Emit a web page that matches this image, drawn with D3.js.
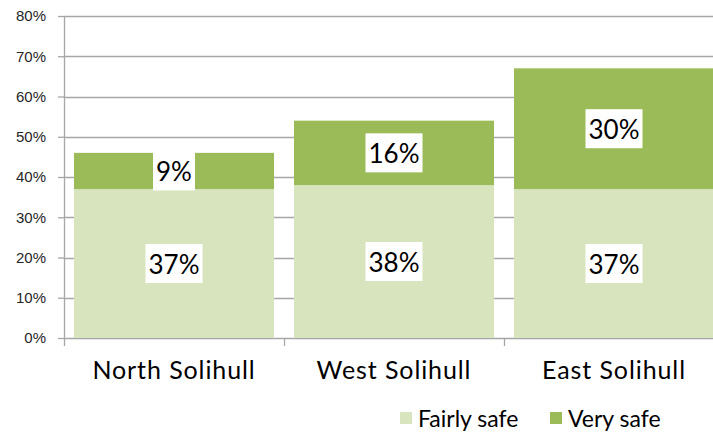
<!DOCTYPE html>
<html>
<head>
<meta charset="utf-8">
<script src="https://cdn.jsdelivr.net/npm/d3@7"></script>
<style>
  html, body { margin: 0; padding: 0; background: #fff; }
  svg { display: block; }
</style>
</head>
<body>
<svg id="chart" width="713" height="436"></svg>
<script>
// Feeling of safety by area (share of respondents)
const categories = ["North Solihull", "West Solihull", "East Solihull"];
const fairlySafe = [37, 38, 37];
const verySafe = [9, 16, 30];
const seriesNames = ["Fairly safe", "Very safe"];
const seriesColors = ["#d7e4bd", "#9bbb59"];
const yTicks = [0, 10, 20, 30, 40, 50, 60, 70, 80];

const svg = d3.select("#chart");
const W = 713, H = 436;
const plot = { left: 64, right: 724, top: 16, bottom: 338 };

const x = d3.scaleBand()
  .domain(categories)
  .range([plot.left, plot.right])
  .paddingInner(20 / 220)
  .paddingOuter(10 / 220);

const y = d3.scaleLinear().domain([0, 80]).range([plot.bottom, plot.top]);

const rows = categories.map((c, i) => ({ cat: c, fairly: fairlySafe[i], very: verySafe[i] }));
const stacked = d3.stack().keys(["fairly", "very"])(rows);

// gridlines + y ticks
const gridColor = "#a6a6a6";
const yAxis = d3.axisLeft(y)
  .tickValues(yTicks)
  .tickSize(6)
  .tickPadding(12)
  .tickFormat(d => d + "%");
const gy = svg.append("g").attr("transform", `translate(${plot.left},0)`).call(yAxis);
gy.select(".domain").remove();
gy.selectAll(".tick line").attr("stroke", gridColor).attr("stroke-width", 1.3);
gy.selectAll(".tick text")
  .attr("fill", "#262626")
  .style("font-family", "'Liberation Sans', Arial, sans-serif")
  .style("font-size", "15px");

svg.append("g").selectAll("line.grid")
  .data(yTicks)
  .join("line")
  .attr("x1", plot.left).attr("x2", W)
  .attr("y1", d => Math.round(y(d)) + 0.5).attr("y2", d => Math.round(y(d)) + 0.5)
  .attr("stroke", gridColor).attr("stroke-width", 1.3);

// stacked bars
svg.append("g").selectAll("g.series")
  .data(stacked)
  .join("g")
  .attr("fill", (d, i) => seriesColors[i])
  .selectAll("rect")
  .data(d => d)
  .join("rect")
  .attr("x", d => x(d.data.cat))
  .attr("width", x.bandwidth())
  .attr("y", d => y(d[1]))
  .attr("height", d => y(d[0]) - y(d[1]));

// y axis line and category separators
svg.append("line")
  .attr("x1", plot.left + 0.5).attr("x2", plot.left + 0.5)
  .attr("y1", plot.top).attr("y2", plot.bottom + 8)
  .attr("stroke", gridColor).attr("stroke-width", 1.3);

const xAxis = d3.axisBottom(x).tickSize(0).tickPadding(0);
const gx = svg.append("g").attr("transform", `translate(0,${plot.bottom})`).call(xAxis);
gx.select(".domain").remove();
gx.selectAll(".tick text")
  .attr("y", 41)
  .attr("dy", 0)
  .attr("fill", "#000")
  .style("font-family", "Lato, sans-serif")
  .style("font-size", "25px")
  .style("letter-spacing", "0.9px");

const seps = categories.slice(1).map(c => x(c) - x.step() * x.paddingInner() / 2);
svg.append("g").selectAll("line")
  .data(seps)
  .join("line")
  .attr("x1", d => Math.round(d) + 0.5).attr("x2", d => Math.round(d) + 0.5)
  .attr("y1", plot.bottom).attr("y2", plot.bottom + 8)
  .attr("stroke", gridColor).attr("stroke-width", 1.3);

// value labels with white boxes
const labels = [];
stacked.forEach(s => s.forEach(d => labels.push({
  cat: d.data.cat, v: d[1] - d[0], mid: (d[0] + d[1]) / 2
})));
const lg = svg.append("g");
labels.forEach(l => {
  const cx = x(l.cat) + x.bandwidth() / 2;
  const cy = y(l.mid);
  const g = lg.append("g");
  const box = g.append("rect").attr("fill", "#fff");
  const t = g.append("text")
    .attr("x", cx).attr("y", cy)
    .attr("text-anchor", "middle")
    .attr("dominant-baseline", "central")
    .attr("fill", "#000")
    .style("font-family", "Lato, sans-serif")
    .style("font-size", "26px")
    .text(l.v + "%");
  const bb = t.node().getBBox();
  const bw = bb.width + 6, bh = 39;
  box.attr("x", cx - bw / 2).attr("y", cy - bh / 2).attr("width", bw).attr("height", bh);
});

// legend
const legend = svg.append("g");
const legendX = [400, 550];
seriesNames.forEach((name, i) => {
  legend.append("rect")
    .attr("x", legendX[i]).attr("y", 412)
    .attr("width", 12).attr("height", 12)
    .attr("fill", seriesColors[i]);
  legend.append("text")
    .attr("x", legendX[i] + 18).attr("y", 427)
    .attr("fill", "#000")
    .style("font-family", "Lato, sans-serif")
    .style("font-size", "23px")
    .text(name);
});
</script>
</body>
</html>
